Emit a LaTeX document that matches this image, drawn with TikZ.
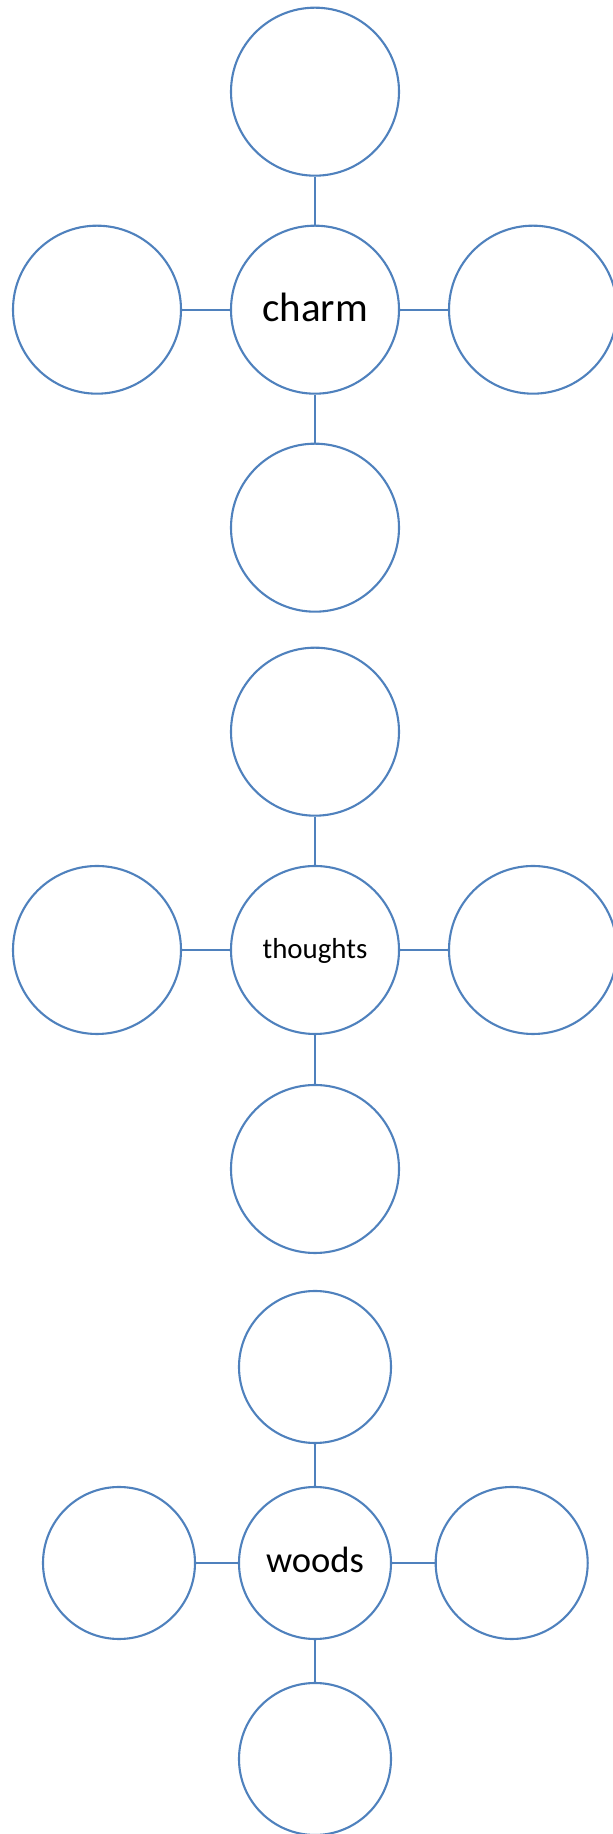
\documentclass[tikz,border=0pt]{standalone}
\usepackage{fontspec}
\setmainfont{Carlito}
\definecolor{ringblue}{HTML}{4F81BD}
\begin{document}
\begin{tikzpicture}[x=1pt,y=1pt,
  ring/.style={circle,draw=ringblue,line width=2.1pt,fill=white,inner sep=0pt},
  bigring/.style={ring,minimum size=168pt},
  smallring/.style={ring,minimum size=152pt},
  link/.style={draw=ringblue,line width=2.1pt}]
\useasboundingbox (0,0) rectangle (613,1834);
\clip (0,0) rectangle (613,1834);
% group 1
\node[bigring,font=\fontsize{41}{41}\selectfont,text height=24pt,text depth=0pt] (c1) at (315,1524.3) {charm};
\node[bigring] (c1t) at (315,1742.3) {};
\node[bigring] (c1b) at (315,1306.3) {};
\node[bigring] (c1l) at (97,1524.3) {};
\node[bigring] (c1r) at (533,1524.3) {};
\draw[link] (c1) -- (c1t);
\draw[link] (c1) -- (c1b);
\draw[link] (c1) -- (c1l);
\draw[link] (c1) -- (c1r);
% group 2
\node[bigring,font=\fontsize{28.9}{29}\selectfont,text height=16.6pt,text depth=0pt] (c2) at (315,884) {thoughts};
\node[bigring] (c2t) at (315,1102.3) {};
\node[bigring] (c2b) at (315,665) {};
\node[bigring] (c2l) at (97,884) {};
\node[bigring] (c2r) at (533,884) {};
\draw[link] (c2) -- (c2t);
\draw[link] (c2) -- (c2b);
\draw[link] (c2) -- (c2l);
\draw[link] (c2) -- (c2r);
% group 3
\node[smallring,font=\fontsize{36.6}{37}\selectfont,text height=19.4pt,text depth=0pt] (c3) at (315,271) {woods};
\node[smallring] (c3t) at (315,467) {};
\node[smallring] (c3b) at (315,75) {};
\node[smallring] (c3l) at (119,271) {};
\node[smallring] (c3r) at (511.7,271) {};
\draw[link] (c3) -- (c3t);
\draw[link] (c3) -- (c3b);
\draw[link] (c3) -- (c3l);
\draw[link] (c3) -- (c3r);
\end{tikzpicture}
\end{document}
